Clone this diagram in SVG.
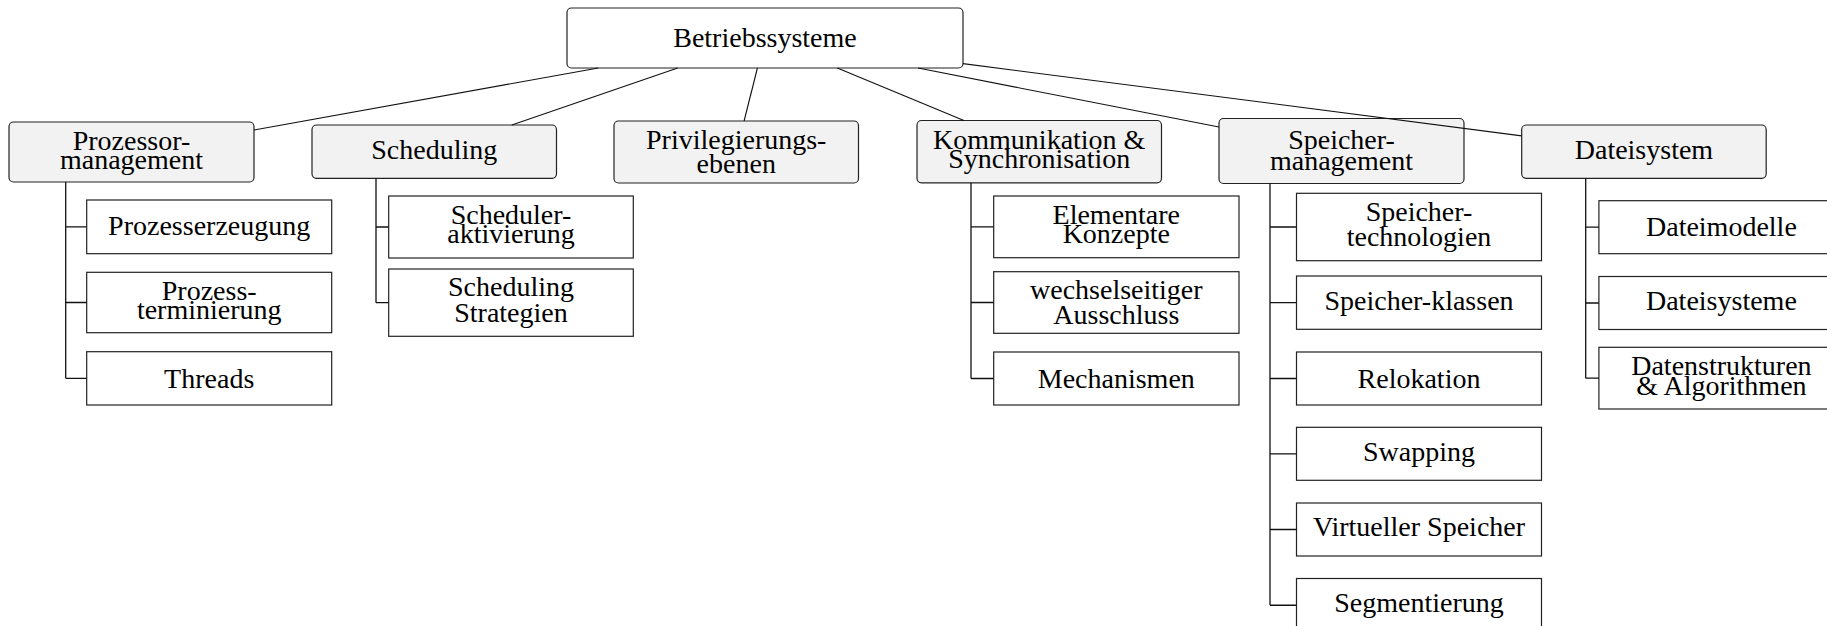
<svg xmlns="http://www.w3.org/2000/svg" width="1827" height="626" viewBox="0 0 1827 626">
  <style>
    .root { fill: #ffffff; stroke: #222222; stroke-width: 1.2; }
    .topic { fill: #f2f2f2; stroke: #222222; stroke-width: 1.2; }
    .leaf { fill: #ffffff; stroke: #222222; stroke-width: 1.2; }
    .edge { fill: none; stroke: #111111; stroke-width: 1.1; }
    .tree { fill: none; stroke: #111111; stroke-width: 1.3; }
    .lbl { font-family: 'Liberation Serif', 'Times New Roman', serif; font-size: 28px; fill: #000000; text-anchor: middle; }
  </style>

  <rect width="1827" height="626" fill="#ffffff"/>

  <!-- root -->
  <g id="betriebssysteme">
    <rect class="root" x="567" y="8" width="396" height="60" rx="4.5"/>
    <text class="lbl" x="765" y="46.5">Betriebssysteme</text>
  </g>

  <!-- main topics -->
  <g id="prozessormanagement">
    <rect class="topic" x="9" y="122" width="245" height="60" rx="4.5"/>
    <text class="lbl" x="131.5" y="149.5">Prozessor-</text>
    <text class="lbl" x="131.5" y="168.5">management</text>
  </g>
  <g id="scheduling">
    <rect class="topic" x="312" y="125" width="244.5" height="53.3" rx="4.5"/>
    <text class="lbl" x="434.25" y="158.5">Scheduling</text>
  </g>
  <g id="privilegierungsebenen">
    <rect class="topic" x="614" y="121" width="244.5" height="62" rx="4.5"/>
    <text class="lbl" x="736.25" y="148.5">Privilegierungs-</text>
    <text class="lbl" x="736.25" y="172.5">ebenen</text>
  </g>
  <g id="kommunikation">
    <rect class="topic" x="917" y="120.5" width="244.5" height="62.3" rx="4.5"/>
    <text class="lbl" x="1039.25" y="148.5">Kommunikation &amp;</text>
    <text class="lbl" x="1039.25" y="168">Synchronisation</text>
  </g>
  <g id="speichermanagement">
    <rect class="topic" x="1219" y="118.5" width="245" height="65" rx="4.5"/>
    <text class="lbl" x="1341.5" y="148.5">Speicher-</text>
    <text class="lbl" x="1341.5" y="170">management</text>
  </g>
  <g id="dateisystem">
    <rect class="topic" x="1521.7" y="125" width="244.5" height="53.3" rx="4.5"/>
    <text class="lbl" x="1643.95" y="159">Dateisystem</text>
  </g>

  <!-- Prozessormanagement: leaves -->
  <g id="prozesserzeugung">
    <rect class="leaf" x="86.7" y="200" width="245" height="53.7"/>
    <text class="lbl" x="209.2" y="234.5">Prozesserzeugung</text>
  </g>
  <g id="prozessterminierung">
    <rect class="leaf" x="86.7" y="272.3" width="245" height="60.4"/>
    <text class="lbl" x="209.2" y="300.2">Prozess-</text>
    <text class="lbl" x="209.2" y="319">terminierung</text>
  </g>
  <g id="threads">
    <rect class="leaf" x="86.7" y="351.7" width="245" height="53.3"/>
    <text class="lbl" x="209.2" y="387.5">Threads</text>
  </g>

  <!-- Scheduling: leaves -->
  <g id="scheduleraktivierung">
    <rect class="leaf" x="388.7" y="196" width="244.6" height="62"/>
    <text class="lbl" x="511" y="224">Scheduler-</text>
    <text class="lbl" x="511" y="243">aktivierung</text>
  </g>
  <g id="schedulingstrategien">
    <rect class="leaf" x="388.7" y="269" width="244.6" height="67.3"/>
    <text class="lbl" x="511" y="296">Scheduling</text>
    <text class="lbl" x="511" y="321.7">Strategien</text>
  </g>

  <!-- Kommunikation & Synchronisation: leaves -->
  <g id="elementarekonzepte">
    <rect class="leaf" x="993.7" y="196" width="245.3" height="61.7"/>
    <text class="lbl" x="1116.3" y="224">Elementare</text>
    <text class="lbl" x="1116.3" y="243">Konzepte</text>
  </g>
  <g id="ausschluss">
    <rect class="leaf" x="993.7" y="271.7" width="245.3" height="61.6"/>
    <text class="lbl" x="1116.3" y="299.3">wechselseitiger</text>
    <text class="lbl" x="1116.3" y="323.6">Ausschluss</text>
  </g>
  <g id="mechanismen">
    <rect class="leaf" x="993.7" y="352" width="245.3" height="53"/>
    <text class="lbl" x="1116.3" y="387.7">Mechanismen</text>
  </g>

  <!-- Speichermanagement: leaves -->
  <g id="speichertechnologien">
    <rect class="leaf" x="1296.5" y="193.3" width="245" height="67.4"/>
    <text class="lbl" x="1419" y="221">Speicher-</text>
    <text class="lbl" x="1419" y="245.5">technologien</text>
  </g>
  <g id="speicherklassen">
    <rect class="leaf" x="1296.5" y="276" width="245" height="53.3"/>
    <text class="lbl" x="1419" y="309.5">Speicher-klassen</text>
  </g>
  <g id="relokation">
    <rect class="leaf" x="1296.5" y="352" width="245" height="53"/>
    <text class="lbl" x="1419" y="387.7">Relokation</text>
  </g>
  <g id="swapping">
    <rect class="leaf" x="1296.5" y="427.3" width="245" height="53"/>
    <text class="lbl" x="1419" y="460.8">Swapping</text>
  </g>
  <g id="virtuellerspeicher">
    <rect class="leaf" x="1296.5" y="503" width="245" height="53"/>
    <text class="lbl" x="1419" y="536.3">Virtueller Speicher</text>
  </g>
  <g id="segmentierung">
    <rect class="leaf" x="1296.5" y="578.5" width="245" height="53.5"/>
    <text class="lbl" x="1419" y="612">Segmentierung</text>
  </g>

  <!-- Dateisystem: leaves -->
  <g id="dateimodelle">
    <rect class="leaf" x="1598.9" y="200.7" width="245" height="53"/>
    <text class="lbl" x="1721.4" y="236.4">Dateimodelle</text>
  </g>
  <g id="dateisysteme">
    <rect class="leaf" x="1598.9" y="276.5" width="245" height="53"/>
    <text class="lbl" x="1721.4" y="309.7">Dateisysteme</text>
  </g>
  <g id="datenstrukturen">
    <rect class="leaf" x="1598.9" y="347.3" width="245" height="61.7"/>
    <text class="lbl" x="1721.4" y="375">Datenstrukturen</text>
    <text class="lbl" x="1721.4" y="395">&amp; Algorithmen</text>
  </g>

  <!-- connectors -->
  <g id="connectors">
    <!-- root to main topics -->
    <line class="edge" x1="598.3" y1="68" x2="254" y2="130"/>
    <line class="edge" x1="677.7" y1="68" x2="511.8" y2="125"/>
    <line class="edge" x1="757.4" y1="68" x2="744.1" y2="121"/>
    <line class="edge" x1="837.3" y1="68" x2="963.9" y2="120.5"/>
    <line class="edge" x1="918.05" y1="68" x2="1219" y2="127"/>
    <line class="edge" x1="963" y1="63.6" x2="1521.7" y2="135.85"/>

    <!-- folder-style branches -->
    <path class="tree" d="M65.7,182 V378.35 M65.7,226.85 H86.7 M65.7,302.5 H86.7 M65.7,378.35 H86.7"/>
    <path class="tree" d="M376,178.3 V302.65 M376,227 H388.7 M376,302.65 H388.7"/>
    <path class="tree" d="M971,182.8 V378.5 M971,226.85 H993.7 M971,302.5 H993.7 M971,378.5 H993.7"/>
    <path class="tree" d="M1270,183.5 V605.25 M1270,227 H1296.5 M1270,302.65 H1296.5 M1270,378.5 H1296.5 M1270,453.8 H1296.5 M1270,529.5 H1296.5 M1270,605.25 H1296.5"/>
    <path class="tree" d="M1585.7,178.3 V378.15 M1585.7,227.2 H1598.9 M1585.7,303 H1598.9 M1585.7,378.15 H1598.9"/>
  </g>
</svg>
